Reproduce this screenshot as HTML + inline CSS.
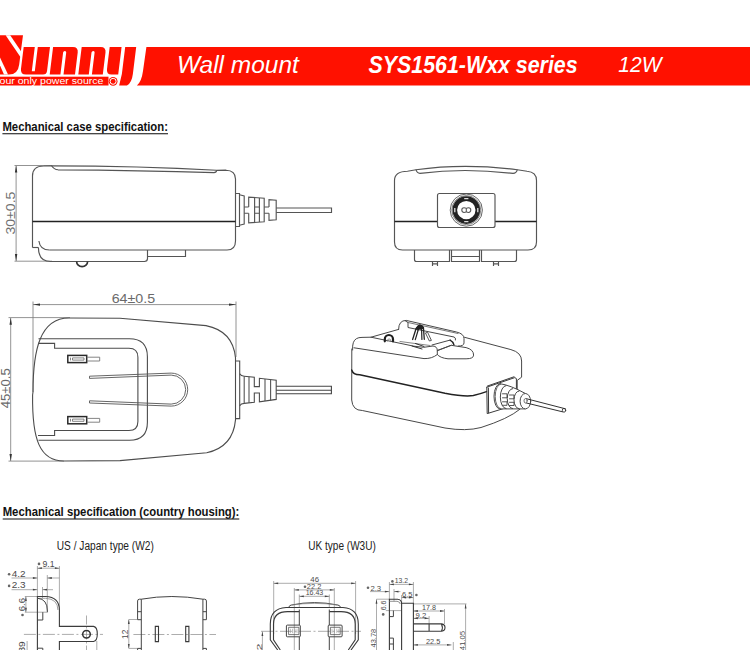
<!DOCTYPE html>
<html><head><meta charset="utf-8">
<style>
html,body{margin:0;padding:0;background:#fff;}
body{width:750px;height:650px;overflow:hidden;position:relative;font-family:"Liberation Sans",sans-serif;}
svg{position:absolute;left:0;top:0;}
</style></head>
<body>
<svg width="750" height="650" viewBox="0 0 750 650" font-family="Liberation Sans, sans-serif">
<!-- LOGO -->
<g id="logo" fill="#ff1100">
  <path d="M0 35.2 L23 35.2 L20.6 53.2 Q19.8 60 19.2 64.5 Q18 74.5 9 74.5 L0 74.5 Z"/>
  <path d="M5.6 35.2 L10.2 35.2 L21.5 52 L20.8 57.5 Z" fill="#fff"/>
  <path d="M0 57.5 L8 74.6 L4 74.6 L0 65.5 Z" fill="#fff"/>
  <g transform="translate(9.15 0) skewX(-7)">
    <path d="M20.3 46.9 L31.4 46.9 L31.4 71.3 L34.4 71.3 L34.4 46.9 L46.6 46.9 L46.6 71 Q46.6 74.5 43 74.5 L26 74.5 Q20.3 74.5 20.3 69 Z"/>
    <path d="M49.7 46.9 L69.5 46.9 Q75 46.9 75 52.5 L75 74.5 L63.5 74.5 L63.5 52.5 Q63.5 51 62 51 Q60.4 51 60.4 52.5 L60.4 74.5 L49.7 74.5 Z"/>
    <path d="M78.3 46.9 L97.3 46.9 Q102.8 46.9 102.8 52.5 L102.8 74.5 L91.9 74.5 L91.9 52.5 Q91.9 51 90.4 51 Q88.8 51 88.8 52.5 L88.8 74.5 L78.3 74.5 Z"/>
    <path d="M106.3 46.9 L118.2 46.9 L118.2 74.5 L111.5 74.5 Q106.3 74.5 106.3 69 Z"/>
    <path d="M121.8 46.9 L132.8 46.9 L132.8 74 Q132.8 83 128.3 85.5 L120.5 85.5 L121.8 74 Z"/>
  </g>
  <path d="M146.4 47 L750 47 L750 85.6 L136.9 85.6 Q141.6 81.5 143 71 Z"/>
  <rect x="0" y="76.7" width="108.5" height="8.8"/>
  <circle cx="113.1" cy="81.3" r="4.4"/>
  <circle cx="113.1" cy="81.3" r="3.0" fill="none" stroke="#fff" stroke-width="1"/>
  <text x="-0.5" y="84" font-size="8.4" fill="#fff" textLength="104" lengthAdjust="spacingAndGlyphs">our only power source</text>
</g>
<!-- HEADER -->
<g id="header">
    <text x="176.9" y="73" font-size="23.5" font-style="italic" fill="#fff" textLength="122" lengthAdjust="spacingAndGlyphs">Wall mount</text>
  <text x="368.6" y="72.6" font-size="23" font-weight="bold" font-style="italic" fill="#fff" textLength="209" lengthAdjust="spacingAndGlyphs">SYS1561-Wxx series</text>
  <text x="618.2" y="72" font-size="22.5" font-style="italic" fill="#fff" textLength="43.4" lengthAdjust="spacingAndGlyphs">12W</text>
</g>
<!-- SIDE VIEW -->
<g id="side" fill="none" stroke="#555" stroke-width="1.15">
  <g stroke="#777" stroke-width="0.8">
    <line x1="16.1" y1="166" x2="16.1" y2="261"/>
    <line x1="14.5" y1="165.5" x2="52" y2="165.5"/>
    <line x1="14.5" y1="261.2" x2="52" y2="261.2"/>
  </g>
  <path d="M16.1 165.6 L14.9 172.5 L17.3 172.5 Z M16.1 261 L14.9 254 L17.3 254 Z" fill="#333" stroke="none"/>
  <text transform="translate(15 234.6) rotate(-90)" font-size="13" fill="#707070" stroke="none" textLength="43" lengthAdjust="spacingAndGlyphs">30±0.5</text>
  <path d="M32.5 247.5 L32.5 176 Q32.5 166 43.6 166 L51.6 165.8 Q140 165.8 216.4 170.3 L226 170.2 Q235.5 170.5 235.5 179 L235.5 241 Q235.5 250 227 250 L49.5 250"/>
  <path d="M51.6 165.8 Q54 169.5 58 169.8 Q140 170.2 214 172.6 Q216.4 172.6 216.6 170.4" stroke="#555"/>
  <line x1="32.5" y1="221.5" x2="235.5" y2="221.5" stroke="#222" stroke-width="1.3"/>
  <path d="M32.5 247.5 L38.4 247.5"/>
  <path d="M38.9 241 Q40 250 49.5 250"/>
  <path d="M38.4 247.5 Q38.4 261.5 50.6 261.5 L144.4 261.5 Q147.5 261.5 147.5 258.5 L147.5 250"/>
  <path d="M147.5 256.5 L185.5 256.5 L185.5 250"/>
  <path d="M76.6 261.5 A5.5 5.2 0 0 0 87.6 261.5" stroke="#333" stroke-width="1.7"/>
  <path d="M235.5 193.5 L239.5 193.5 L239.5 226.5 L235.5 226.5"/>
  <path d="M239.5 194.8 L244.2 196 L244.2 224 L239.5 225.2"/>
  <path d="M244.2 207 L248.7 207 M244.2 213.2 L248.7 213.2"/>
  <path d="M248.7 213.2 L248.7 222.8 L264.2 221.8 L264.2 198.2 L248.7 197.2 L248.7 207"/>
  <path d="M254.6 197.6 L254.6 222.4 M259.4 197.9 L259.4 222.1 M254.6 207 L259.4 207 M254.6 213.2 L259.4 213.2"/>
  <path d="M264.2 207 L269 207 M264.2 213.2 L269 213.2"/>
  <path d="M269 213.2 L269 220.4 L276.2 219.8 L276.2 200.2 L269 199.6 L269 207"/>
  <path d="M276.2 208 L331.5 208 L331.5 212.5 L276.2 212.5"/>
</g>
<!-- FRONT VIEW -->
<g id="front" fill="none" stroke="#555" stroke-width="1.15">
  <path d="M394.5 180.5 Q394.5 171.5 407.5 171.3 L416 169.7 Q464 163 517.3 169.7 L527 171.3 Q536.5 172 536.5 180.5 L536.5 242 Q536.5 250 528 250 L402.5 250 Q394.5 250 394.5 242 Z"/>
  <path d="M416 169.7 Q417 173.4 420 173.4 Q464 167.5 513 173.4 Q516.5 173.4 517.3 169.7" stroke="#555"/>
  <line x1="394.5" y1="221.5" x2="437.5" y2="221.5" stroke="#222" stroke-width="1.3"/>
  <line x1="495" y1="221.5" x2="536.5" y2="221.5" stroke="#222" stroke-width="1.3"/>
  <rect x="437.5" y="193.5" width="57.5" height="34" rx="2"/>
  <circle cx="466.3" cy="210.1" r="16.1" stroke="#555" stroke-width="0.9"/>
  <circle cx="466.3" cy="210.1" r="14.5" stroke="#666" stroke-width="0.8"/>
  <circle cx="466.3" cy="210.1" r="11.5" stroke="#222" stroke-width="4.6"/>
  <path d="M464.2 198.6 L468.4 198.6 M464.2 221.6 L468.4 221.6 M454.8 208 L454.8 212.2 M477.8 208 L477.8 212.2" stroke="#ddd" stroke-width="1.3"/>
  <path d="M466.3 208.4 Q465.4 207.8 464 207.8 Q461.8 207.8 461.8 210.1 Q461.8 212.4 464 212.4 Q465.4 212.4 466.3 211.8 Q467.2 212.4 468.6 212.4 Q470.8 212.4 470.8 210.1 Q470.8 207.8 468.6 207.8 Q467.2 207.8 466.3 208.4 Z M466.3 208.4 L466.3 211.8" stroke="#555" stroke-width="1.05"/>
  <path d="M414.5 250 L414.5 259.5 Q414.5 261.5 416.5 261.5 L449.5 261.5 L449.5 250"/>
  <path d="M451.5 250 L451.5 261.5 L479.5 261.5 L479.5 250 M451.5 256.5 L479.5 256.5"/>
  <path d="M481.5 250 L481.5 261.5 L514.5 261.5 Q516.5 261.5 516.5 259.5 L516.5 250"/>
  <path d="M432.5 261.5 L432.5 266 M437.5 261.5 L437.5 266 M432.5 263.8 L437.5 263.8 M493.5 261.5 L493.5 266 M498.5 261.5 L498.5 266 M493.5 263.8 L498.5 263.8"/>
</g>
<!-- BOTTOM VIEW -->
<g id="bottom" fill="none" stroke="#4c4c4c" stroke-width="1.1">
  <g stroke="#777" stroke-width="0.8">
    <line x1="33" y1="304.6" x2="236" y2="304.6"/>
    <line x1="33" y1="301.5" x2="33" y2="392"/>
    <line x1="236" y1="301.5" x2="236" y2="357"/>
    <line x1="10.7" y1="318" x2="10.7" y2="461"/>
    <line x1="8.5" y1="317.6" x2="70" y2="317.6"/>
    <line x1="8.5" y1="461.1" x2="64" y2="461.1"/>
  </g>
  <path d="M33 304.6 L40 303.4 L40 305.8 Z M236 304.6 L229 303.4 L229 305.8 Z M10.7 317.8 L9.5 324.8 L11.9 324.8 Z M10.7 461 L9.5 454 L11.9 454 Z" fill="#333" stroke="none"/>
  <text x="111.7" y="303" font-size="13" fill="#6a6a6a" stroke="none" textLength="43.5" lengthAdjust="spacingAndGlyphs">64±0.5</text>
  <text transform="translate(9.6 408.3) rotate(-90)" font-size="13" fill="#6a6a6a" stroke="none" textLength="40" lengthAdjust="spacingAndGlyphs">45±0.5</text>
  <!-- body -->
  <path d="M33 392 C33 350 40 318 69 318 L120 318.3 L206 325.6 Q233 331 235.5 357.8 L235.5 419.9 Q233 447 206.7 452.8 L120 460.6 L64 461 C40 461 32 440 32.6 395 Z"/>
  <!-- frames -->
  <path d="M38.5 338.7 L129.4 338.7 Q147.4 338.7 147.4 356.7 L147.4 422.3 Q147.4 440.3 129.4 440.3 L38.5 440.3"/>
  <path d="M38 343.4 L54.6 343.4 L54.6 348.3 L128.9 348.3 Q137.9 348.3 137.9 357.3 L137.9 421.5 Q137.9 430.5 128.9 430.5 L54.6 430.5 L54.6 435.5 L38 435.5"/>
  <!-- pin slots -->
  <rect x="67.8" y="355.4" width="18.9" height="7.2" stroke="#2a2a2a" stroke-width="1.5"/>
  <path d="M70.5 357.6 L70.5 360.4 M72.5 357.9 L84 357.9 L84 360.1 L72.5 360.1 Z" stroke="#666" stroke-width="0.8"/>
  <path d="M86.7 357.2 L99.7 357.2 L99.7 361 L86.7 361" stroke="#777" stroke-width="0.9"/>
  <rect x="67.8" y="416.6" width="18.9" height="7.2" stroke="#2a2a2a" stroke-width="1.5"/>
  <path d="M70.5 418.8 L70.5 421.6 M72.5 419.1 L84 419.1 L84 421.3 L72.5 421.3 Z" stroke="#666" stroke-width="0.8"/>
  <path d="M86.7 418.4 L99.7 418.4 L99.7 422.2 L86.7 422.2" stroke="#777" stroke-width="0.9"/>
  <!-- wire loop -->
  <path d="M89.5 376.2 L171.2 373.1 A16.5 16.5 0 0 1 171.2 406.1 L89.5 403" stroke="#555" stroke-width="0.9"/>
  <path d="M89.5 378.4 L171.2 375.1 A14.5 14.5 0 0 1 171.2 404.1 L89.5 400.8" stroke="#555" stroke-width="0.9"/>
  <path d="M89.5 376.2 L89.5 378.4 M89.5 400.8 L89.5 403" stroke="#555" stroke-width="0.9"/>
  <!-- connector -->
  <path d="M235.5 361 L239.7 361 L239.7 418.6 L235.5 418.6"/>
  <path d="M239.7 373.8 Q241 376.2 244.2 376.2 L254.3 377.3 L254.3 386.6 L259.4 386.6 L259.4 378.3 L276.2 380.2 L276.2 399.4 L259.4 401.8 L259.4 393 L254.3 393 L254.3 402.3 L244.2 403.4 Q241 403.4 239.7 405.8"/>
  <path d="M244.2 376.2 L244.2 403.4 M249 376.7 L249 402.9 M265 378.9 L265 401.1 M270.6 379.5 L270.6 400.4" stroke="#555"/>
  <path d="M276.2 386.3 L331.4 386.3 L331.4 393.8 L276.2 393.8 M276.2 390.3 L331.4 390.3" stroke="#444"/>
</g>
<!-- 3D VIEW -->
<g id="iso" fill="none" stroke="#484848" stroke-width="1" stroke-linecap="round" stroke-linejoin="round">
  <!-- body outline -->
  <path d="M351.8 349 L351.7 400 Q352.5 410.5 362.3 410.5 L445 428 Q466 431.5 481 427.5 Q508 419 520 409.2"/>
  <path d="M464.5 337.3 L510.9 349.6 Q521.6 352.5 521.6 361 L521.6 377.2 L517.2 380.4 L517.2 391.6"/>
  <path d="M351.7 370 Q353 374.7 359.7 374.7 L445 393.3 Q465 397 473.3 395.5 Q480 394 486.5 391.6" stroke="#222" stroke-width="1.4"/>
  <!-- left lip -->
  <path d="M352.6 350 Q352 341 356.5 338.6 Q358.5 337.4 362 337.4 L371 337.2 L413.9 346.2 Q424 348.5 433 346 Q437.3 346.5 437.3 350.5 L437.3 354.5 Q432 358.8 424 358.6 L354 347.8"/>
  <path d="M371 337.2 L398.6 329.4"/>
  <path d="M400 341.5 L430 345.5" stroke="#666" stroke-width="0.8"/>
  <!-- raised bar -->
  <path d="M398.6 329.4 Q398.6 320.4 406.2 320.4 L456.5 332 Q464 333.8 464 338.5 L464 342.9 Q464 346.1 458.3 346.1"/>
  <path d="M405.5 321 L408 322.5 L408 327.5 L454 337 Q456 337.5 455.5 340"/>
  <path d="M408 322.5 L458 333.5" stroke="#555" stroke-width="0.8"/>
  <path d="M432 345 L450.1 340.1 M437.3 350.7 L451.2 345.3"/>
  <path d="M450.1 340.1 Q453 341.5 454 345" stroke="#222" stroke-width="1.3"/>
  <!-- right lip -->
  <path d="M437.3 350.5 L451.2 345.3 L466.1 347.6 Q473.6 349.5 473.6 355.1 Q473.6 358.8 466.1 358.8 L448 358.8 Q440 358 437.3 354.5"/>
  <!-- pins -->
  <path d="M384.8 341.3 L384.8 339.3 A4.1 4.3 0 0 1 393 339.3 L393 341.3" stroke="#1e1e1e" stroke-width="2.2"/>
  <path d="M387.2 341.3 A1.9 2.4 0 0 1 391 341.3" stroke="#777" stroke-width="0.8"/>
  <path d="M412.6 339.5 L416.2 328.3 Q419.8 322.3 423.4 327.3 L424.3 339.3" stroke="#222" stroke-width="1.3"/>
  <path d="M415.3 339.6 L418.2 330 Q419.8 327 421.6 329.6 L421.9 339.4" stroke="#222" stroke-width="1.2"/>
  <path d="M416.2 328.3 Q419.8 322.3 423.4 327.3 L421.6 329.6 Q419.8 327 418.2 330 Z" fill="#222" stroke="#222" stroke-width="1"/>
  <path d="M425.6 333.3 L429.4 341 L431.4 340.4 L427.8 332.7 Z" stroke="#444" stroke-width="0.9"/>
  <path d="M415.5 343.5 L424 346.5 M412 346 L422 349" stroke="#333" stroke-width="1"/>
  <!-- plate -->
  <path d="M486.8 387.2 L514.8 377.6 L516.4 378.6 L516.4 391.6 M486.8 387.2 L487.2 413.6 L504 408.4 M488.4 388 L488.6 412.8 M487.5 386 L514 376.8" stroke="#3a3a3a"/>
  <!-- strain relief -->
  <path d="M500 383.7 Q510 385 525.4 393.5 L525.4 408.9 L500 408.9 A6 12.6 0 0 1 500 383.7 Z" fill="#fff"/>
  <path d="M500.5 384.2 A5.2 12 0 0 0 500.5 408.6" stroke="#555" stroke-width="0.9"/>
  <path d="M506 385.6 A5.6 11.4 0 0 0 506 408.6 M512.6 388.6 A5.3 9.9 0 0 0 512.6 408.6 M519 391 A5 8.8 0 0 0 519 408.7" stroke="#444" stroke-width="1"/>
  <path d="M502.5 393.8 L507 393.8 L507 397.8 L502.5 397.8 M502.5 401.8 L507 401.8 L507 405.3 L502.5 405.3" stroke="#444" stroke-width="0.9"/>
  <path d="M509.5 395 L514 395 L514 398.8 L509.5 398.8 M509.5 402.3 L514 402.3 L514 405.5 L509.5 405.5" stroke="#444" stroke-width="0.9"/>
  <ellipse cx="525.4" cy="401.2" rx="5.3" ry="7.7" fill="#fff"/>
  <!-- cable -->
  <path d="M526 398.6 L565.4 408.8 M526 402.9 L562.5 411.8" stroke="#333"/>
  <ellipse cx="564" cy="410.3" rx="1.7" ry="1.9" stroke="#333" stroke-width="0.9"/>
  <ellipse cx="525.6" cy="400.8" rx="1.6" ry="2.2" fill="#fff" stroke="#555" stroke-width="0.8"/>
</g>
<!-- US SIDE -->
<g id="bottomdrawings">
<circle cx="39" cy="563.9" r="1.3" fill="#666"/>
<text x="42.5" y="566.7" font-size="8.2" fill="#4a4a4a" textLength="12.1" lengthAdjust="spacingAndGlyphs">9.1</text>
<circle cx="9.1" cy="574.2" r="1.3" fill="#666"/>
<text x="11.7" y="576.7" font-size="8.2" fill="#4a4a4a" textLength="13.9" lengthAdjust="spacingAndGlyphs">4.2</text>
<circle cx="9.1" cy="585.9" r="1.3" fill="#666"/>
<text x="11.7" y="588.4" font-size="8.2" fill="#4a4a4a" textLength="13.9" lengthAdjust="spacingAndGlyphs">2.3</text>
<text transform="translate(24.8 611.2) rotate(-90)" font-size="8.2" fill="#4a4a4a" textLength="13.3" lengthAdjust="spacingAndGlyphs">6.6</text>
<circle cx="22.5" cy="615" r="1.3" fill="#666"/>
<text transform="translate(24.8 652.5) rotate(-90)" font-size="8.2" fill="#4a4a4a" textLength="11.2" lengthAdjust="spacingAndGlyphs">39</text>
<line x1="37.4" y1="566" x2="37.4" y2="597" stroke="#8a8a8a" stroke-width="0.7" />
<line x1="59.4" y1="566" x2="59.4" y2="610" stroke="#8a8a8a" stroke-width="0.7" />
<line x1="47.3" y1="575" x2="47.3" y2="612.2" stroke="#8a8a8a" stroke-width="0.7" />
<line x1="42.5" y1="587" x2="42.5" y2="598" stroke="#8a8a8a" stroke-width="0.7" />
<line x1="37.4" y1="568.2" x2="59.4" y2="568.2" stroke="#8a8a8a" stroke-width="0.7" />
<polygon points="37.4,568.2 41.9,567.3000000000001 41.9,569.1" fill="#444"/>
<polygon points="59.4,568.2 54.9,567.3000000000001 54.9,569.1" fill="#444"/>
<line x1="11.5" y1="578" x2="37.4" y2="578" stroke="#8a8a8a" stroke-width="0.7" />
<polygon points="37.4,578 32.9,577.1 32.9,578.9" fill="#444"/>
<line x1="47.3" y1="578" x2="59.4" y2="578" stroke="#8a8a8a" stroke-width="0.7" />
<polygon points="47.3,578 51.8,577.1 51.8,578.9" fill="#444"/>
<line x1="11.5" y1="589.7" x2="37.4" y2="589.7" stroke="#8a8a8a" stroke-width="0.7" />
<polygon points="37.4,589.7 32.9,588.8000000000001 32.9,590.6" fill="#444"/>
<line x1="42.5" y1="589.7" x2="53" y2="589.7" stroke="#8a8a8a" stroke-width="0.7" />
<polygon points="42.5,589.7 47.0,588.8000000000001 47.0,590.6" fill="#444"/>
<line x1="25.9" y1="596.5" x2="25.9" y2="612.2" stroke="#8a8a8a" stroke-width="0.7" />
<polygon points="25.9,596.5 25.0,601.0 26.799999999999997,601.0" fill="#444"/>
<polygon points="25.9,612.2 25.0,607.7 26.799999999999997,607.7" fill="#444"/>
<line x1="24.8" y1="596.5" x2="37.4" y2="596.5" stroke="#8a8a8a" stroke-width="0.7" />
<line x1="24.8" y1="612.2" x2="47.3" y2="612.2" stroke="#8a8a8a" stroke-width="0.7" />
<line x1="27.1" y1="641" x2="27.1" y2="650" stroke="#8a8a8a" stroke-width="0.7" />
<line x1="86.5" y1="615.5" x2="86.5" y2="650" stroke="#8a8a8a" stroke-width="0.7" stroke-dasharray="9 2 2 2"/>
<line x1="23.9" y1="634.4" x2="103" y2="634.4" stroke="#8a8a8a" stroke-width="0.7" stroke-dasharray="12 2.5 2 2.5"/>
<line x1="96.8" y1="641" x2="96.8" y2="650" stroke="#8a8a8a" stroke-width="0.7" />
<path d="M37.4 650 L37.4 596.5 L45.5 596.5 Q59.4 597 59.4 610 L59.4 626.4 L93.5 626.4 Q97.3 627 97.3 634 Q97.3 641 93.5 641.5 L59.4 641.5 L59.4 650" stroke="#3c3c3c" stroke-width="1.1" fill="none"/>
<path d="M37.7 598.3 L45.5 598.3 Q57.9 598.9 57.9 610" stroke="#888" stroke-width="0.8" fill="none"/>
<path d="M37.7 598.3 Q47.4 599 47.4 611.2" stroke="#444" stroke-width="1.0" fill="none"/>
<path d="M47.4 611.2 L47.4 612.2 M42.8 612.2 L42.8 620 L37.4 620" stroke="#444" stroke-width="1.0" fill="none"/>
<path d="M37.4 648.2 L42.8 648.2 L42.8 650" stroke="#444" stroke-width="1.0" fill="none"/>
<circle cx="86.5" cy="634.3" r="3.8" fill="none" stroke="#333" stroke-width="1.5"/>
<text transform="translate(127.9 638.9) rotate(-90)" font-size="9" fill="#4a4a4a" textLength="9.2" lengthAdjust="spacingAndGlyphs">12</text>
<line x1="128.8" y1="619.5" x2="128.8" y2="648.4" stroke="#8a8a8a" stroke-width="0.7" />
<polygon points="128.8,619.5 127.9,624.0 129.70000000000002,624.0" fill="#444"/>
<polygon points="128.8,648.4 127.9,643.9 129.70000000000002,643.9" fill="#444"/>
<line x1="128.8" y1="619.5" x2="137.4" y2="619.5" stroke="#8a8a8a" stroke-width="0.7" />
<line x1="128.8" y1="648.4" x2="137.4" y2="648.4" stroke="#8a8a8a" stroke-width="0.7" />
<line x1="133.4" y1="634.5" x2="216" y2="634.5" stroke="#8a8a8a" stroke-width="0.7" stroke-dasharray="12 2.5 2 2.5"/>
<path d="M141.3 599.2 Q171.6 593.8 202.9 599.2" stroke="#444" stroke-width="1.0" fill="none"/>
<path d="M137.6 619.7 L137.6 601 Q137.6 599.2 139.4 599.2 L141.3 599.2 L141.3 650 M137.6 611.7 L141.3 611.7 M137.6 619.7 L141.3 619.7" stroke="#444" stroke-width="1.0" fill="none"/>
<path d="M206.4 619.7 L206.4 601 Q206.4 599.2 204.6 599.2 L202.9 599.2 L202.9 650 M206.4 611.7 L202.9 611.7 M206.4 619.7 L202.9 619.7" stroke="#444" stroke-width="1.0" fill="none"/>
<path d="M137.6 650 L137.6 648.4 L141.3 648.4 M206.4 650 L206.4 648.4 L202.9 648.4" stroke="#444" stroke-width="1.0" fill="none"/>
<path d="M155.3 626.4 L158.5 626.4 L158.5 641.6 L155.3 641.6 Z M185.7 626.4 L188.9 626.4 L188.9 641.6 L185.7 641.6 Z" stroke="#3a3a3a" stroke-width="1.1" fill="none"/>
<text x="310.3" y="582.3" font-size="7.6" fill="#4a4a4a" textLength="8.7" lengthAdjust="spacingAndGlyphs">46</text>
<circle cx="305" cy="586.7" r="1.3" fill="#666"/>
<text x="306.8" y="589" font-size="7.6" fill="#4a4a4a" textLength="14.5" lengthAdjust="spacingAndGlyphs">22.2</text>
<text x="305.7" y="595" font-size="7.6" fill="#4a4a4a" textLength="17.6" lengthAdjust="spacingAndGlyphs">16.43</text>
<text transform="translate(262 650.5) rotate(-90)" font-size="7" fill="#4a4a4a" textLength="7.0" lengthAdjust="spacingAndGlyphs">2</text>
<line x1="273.7" y1="581" x2="273.7" y2="634" stroke="#8a8a8a" stroke-width="0.7" />
<line x1="355.6" y1="581" x2="355.6" y2="634" stroke="#8a8a8a" stroke-width="0.7" />
<line x1="294.3" y1="588" x2="294.3" y2="650" stroke="#8a8a8a" stroke-width="0.7" />
<line x1="334.3" y1="588" x2="334.3" y2="650" stroke="#8a8a8a" stroke-width="0.7" />
<line x1="299.3" y1="594.5" x2="299.3" y2="608" stroke="#8a8a8a" stroke-width="0.7" />
<line x1="329.3" y1="594.5" x2="329.3" y2="608" stroke="#8a8a8a" stroke-width="0.7" />
<line x1="273.7" y1="583.3" x2="355.6" y2="583.3" stroke="#8a8a8a" stroke-width="0.7" />
<polygon points="273.7,583.3 278.2,582.4 278.2,584.1999999999999" fill="#444"/>
<polygon points="355.6,583.3 351.1,582.4 351.1,584.1999999999999" fill="#444"/>
<line x1="294.3" y1="589.9" x2="334.3" y2="589.9" stroke="#8a8a8a" stroke-width="0.7" />
<polygon points="294.3,589.9 298.8,589.0 298.8,590.8" fill="#444"/>
<polygon points="334.3,589.9 329.8,589.0 329.8,590.8" fill="#444"/>
<line x1="299.3" y1="596.3" x2="329.3" y2="596.3" stroke="#8a8a8a" stroke-width="0.7" />
<polygon points="299.3,596.3 303.8,595.4 303.8,597.1999999999999" fill="#444"/>
<polygon points="329.3,596.3 324.8,595.4 324.8,597.1999999999999" fill="#444"/>
<line x1="261" y1="631.3" x2="361" y2="631.3" stroke="#8a8a8a" stroke-width="0.7" stroke-dasharray="12 2.5 2 2.5"/>
<line x1="262.4" y1="631.6" x2="262.4" y2="650" stroke="#8a8a8a" stroke-width="0.7" />
<polygon points="262.4,631.6 261.5,636.1 263.29999999999995,636.1" fill="#444"/>
<path d="M288.6 607.5 Q289.5 605 291.5 605 Q314.3 600.2 337.7 605 Q339.7 605 340.7 607.5" stroke="#444" stroke-width="1.0" fill="none"/>
<path d="M291.5 605 Q314.3 601.8 337.7 605" stroke="#888" stroke-width="0.7" fill="none"/>
<path d="M277.7 650 L270.3 639.8 L270.3 624 Q270.3 608.5 286 607.5 L343 607.5 Q358.3 608.5 358.3 624 L358.3 639.8 L351 650" stroke="#3a3a3a" stroke-width="1.1" fill="none"/>
<path d="M280.3 650 L273.5 639.8 L273.5 624 Q273.5 611.6 287.5 611.6 L299.3 611.6 M329.3 611.6 L341 611.6 Q355.2 611.6 355.2 624 L355.2 639.8 L348.3 650" stroke="#3a3a3a" stroke-width="1.1" fill="none"/>
<path d="M299.3 609.5 L299.3 625.1 M299.3 636.8 L299.3 650 M329.3 609.5 L329.3 625.1 M329.3 636.8 L329.3 650" stroke="#444" stroke-width="1.0" fill="none"/>
<path d="M287.4 625.1 L299.3 625.1 Q300.3 625.1 300.3 626 L300.3 636 Q300.3 636.8 299.3 636.8 L287.4 636.8 Q286.4 636.8 286.4 636 L286.4 626 Q286.4 625.1 287.4 625.1 Z" stroke="#444" stroke-width="1.0" fill="none"/>
<path d="M329.2 625.1 L341.1 625.1 Q342.1 625.1 342.1 626 L342.1 636 Q342.1 636.8 341.1 636.8 L329.2 636.8 Q328.2 636.8 328.2 636 L328.2 626 Q328.2 625.1 329.2 625.1 Z" stroke="#444" stroke-width="1.0" fill="none"/>
<path d="M288.6 627.3 L298.9 627.3 L298.9 634.6 L288.6 634.6 Z M330.4 627.3 L340.2 627.3 L340.2 634.6 L330.4 634.6 Z" stroke="#555" stroke-width="0.8" fill="none"/>
<path d="M290.5 628.8 L290.5 633.2 M292.5 628.8 L292.5 633.2 M295 628.8 L295 633.2 M297 628.8 L297 633.2 M332 628.8 L332 633.2 M334.5 628.8 L334.5 633.2 M336.8 628.8 L336.8 633.2 M338.8 628.8 L338.8 633.2" stroke="#999" stroke-width="0.6" fill="none"/>
<circle cx="392.4" cy="581.4" r="1.3" fill="#666"/>
<text x="394.8" y="583.4" font-size="7.3" fill="#4a4a4a" textLength="13.2" lengthAdjust="spacingAndGlyphs">13.2</text>
<circle cx="368" cy="587.8" r="1.3" fill="#666"/>
<text x="370.4" y="590.6" font-size="7.3" fill="#4a4a4a" textLength="10.8" lengthAdjust="spacingAndGlyphs">2.3</text>
<text x="402" y="597" font-size="7.3" fill="#4a4a4a" textLength="10.4" lengthAdjust="spacingAndGlyphs">6.5</text>
<circle cx="416.4" cy="595" r="1.3" fill="#666"/>
<text transform="translate(385.8 610.2) rotate(-90)" font-size="7.3" fill="#4a4a4a" textLength="9.7" lengthAdjust="spacingAndGlyphs">6.6</text>
<circle cx="383.2" cy="614.4" r="1.3" fill="#666"/>
<text transform="translate(376 647.4) rotate(-90)" font-size="7.3" fill="#4a4a4a" textLength="18.6" lengthAdjust="spacingAndGlyphs">43.78</text>
<text x="422.1" y="609.9" font-size="7.3" fill="#4a4a4a" textLength="14.0" lengthAdjust="spacingAndGlyphs">17.8</text>
<text x="415.6" y="617.9" font-size="7.3" fill="#4a4a4a" textLength="10.7" lengthAdjust="spacingAndGlyphs">9.2</text>
<text x="425.9" y="644" font-size="7.3" fill="#4a4a4a" textLength="14.4" lengthAdjust="spacingAndGlyphs">22.5</text>
<text transform="translate(464.8 650.3) rotate(-90)" font-size="7.3" fill="#4a4a4a" textLength="19.3" lengthAdjust="spacingAndGlyphs">41.05</text>
<text x="432.9" y="654.5" font-size="7.3" fill="#4a4a4a" textLength="7.9" lengthAdjust="spacingAndGlyphs">18</text>
<line x1="389.4" y1="582" x2="389.4" y2="600" stroke="#8a8a8a" stroke-width="0.7" />
<line x1="413.4" y1="582" x2="413.4" y2="604" stroke="#8a8a8a" stroke-width="0.7" />
<line x1="394" y1="589" x2="394" y2="601.3" stroke="#8a8a8a" stroke-width="0.7" />
<line x1="401.6" y1="595" x2="401.6" y2="603.3" stroke="#8a8a8a" stroke-width="0.7" />
<line x1="389.4" y1="584.4" x2="413.4" y2="584.4" stroke="#8a8a8a" stroke-width="0.7" />
<polygon points="389.4,584.4 393.9,583.5 393.9,585.3" fill="#444"/>
<polygon points="413.4,584.4 408.9,583.5 408.9,585.3" fill="#444"/>
<line x1="370" y1="591.6" x2="389.4" y2="591.6" stroke="#8a8a8a" stroke-width="0.7" />
<polygon points="389.4,591.6 384.9,590.7 384.9,592.5" fill="#444"/>
<line x1="394" y1="591.6" x2="400.4" y2="591.6" stroke="#8a8a8a" stroke-width="0.7" />
<polygon points="394,591.6 398.5,590.7 398.5,592.5" fill="#444"/>
<line x1="401.6" y1="597.6" x2="413.4" y2="597.6" stroke="#8a8a8a" stroke-width="0.7" />
<polygon points="401.6,597.6 406.1,596.7 406.1,598.5" fill="#444"/>
<polygon points="413.4,597.6 408.9,596.7 408.9,598.5" fill="#444"/>
<line x1="376.5" y1="599.2" x2="376.5" y2="650" stroke="#8a8a8a" stroke-width="0.7" />
<polygon points="376.5,599.2 375.6,603.7 377.4,603.7" fill="#444"/>
<line x1="376.5" y1="599.2" x2="389.4" y2="599.2" stroke="#8a8a8a" stroke-width="0.7" />
<line x1="385.8" y1="610.6" x2="401.6" y2="610.6" stroke="#8a8a8a" stroke-width="0.7" />
<line x1="413.4" y1="603.9" x2="466.5" y2="603.9" stroke="#8a8a8a" stroke-width="0.7" />
<line x1="465.6" y1="604" x2="465.6" y2="650" stroke="#8a8a8a" stroke-width="0.7" />
<polygon points="465.6,604 464.70000000000005,608.5 466.5,608.5" fill="#444"/>
<line x1="413.4" y1="611" x2="444.5" y2="611" stroke="#8a8a8a" stroke-width="0.7" />
<polygon points="413.4,611 417.9,610.1 417.9,611.9" fill="#444"/>
<polygon points="444.5,611 440.0,610.1 440.0,611.9" fill="#444"/>
<line x1="444.5" y1="609" x2="444.5" y2="624" stroke="#8a8a8a" stroke-width="0.7" />
<line x1="413.4" y1="618.3" x2="429.1" y2="618.3" stroke="#8a8a8a" stroke-width="0.7" />
<polygon points="413.4,618.3 417.9,617.4 417.9,619.1999999999999" fill="#444"/>
<polygon points="429.1,618.3 424.6,617.4 424.6,619.1999999999999" fill="#444"/>
<line x1="429.1" y1="616" x2="429.1" y2="624" stroke="#8a8a8a" stroke-width="0.7" />
<line x1="413.4" y1="644.9" x2="451.5" y2="644.9" stroke="#8a8a8a" stroke-width="0.7" />
<polygon points="413.4,644.9 417.9,644.0 417.9,645.8" fill="#444"/>
<polygon points="451.5,644.9 447.0,644.0 447.0,645.8" fill="#444"/>
<line x1="453.3" y1="642" x2="453.3" y2="650" stroke="#8a8a8a" stroke-width="0.7" />
<path d="M389.4 650 L389.4 599.2 L397.5 599.2 Q401.6 599.5 401.6 603.5 L401.6 650 M401.6 603.3 L413.4 603.3 L413.4 650" stroke="#3a3a3a" stroke-width="1.1" fill="none"/>
<path d="M389.4 601.3 L397 601.3 Q399.8 601.6 400.3 604" stroke="#777" stroke-width="0.8" fill="none"/>
<path d="M393.4 610.6 L393.4 616.6 L389.4 616.6 M389.4 638.1 L393.4 638.1 L393.4 650 M389.4 644 L393.4 644" stroke="#444" stroke-width="1.0" fill="none"/>
<path d="M413.4 623.9 L441.7 623.9 Q445 624.5 445 627.5 Q445 630.7 441.7 631.2 L413.4 631.2 M429.1 623.9 L429.1 631.2 M441.5 624.2 Q443.3 627.5 441.5 630.9" stroke="#3a3a3a" stroke-width="1.1" fill="none"/>
</g>
<!-- HEADINGS -->
<g fill="#111" font-weight="bold" font-size="13">
  <text x="2.4" y="131.4" textLength="165.6" lengthAdjust="spacingAndGlyphs">Mechanical case specification:</text>
  <rect x="2.4" y="133.1" width="165.6" height="1.2" fill="#333"/>
  <text x="2.7" y="516.4" textLength="236.6" lengthAdjust="spacingAndGlyphs">Mechanical specification (country housing):</text>
  <rect x="2.7" y="518.4" width="236.6" height="1.2" fill="#333"/>
</g>
<g fill="#222" font-size="12.5">
  <text x="56.8" y="549.6" textLength="97" lengthAdjust="spacingAndGlyphs">US / Japan type (W2)</text>
  <text x="308.3" y="549.5" textLength="67.5" lengthAdjust="spacingAndGlyphs">UK type (W3U)</text>
</g>
</svg>
</body></html>
